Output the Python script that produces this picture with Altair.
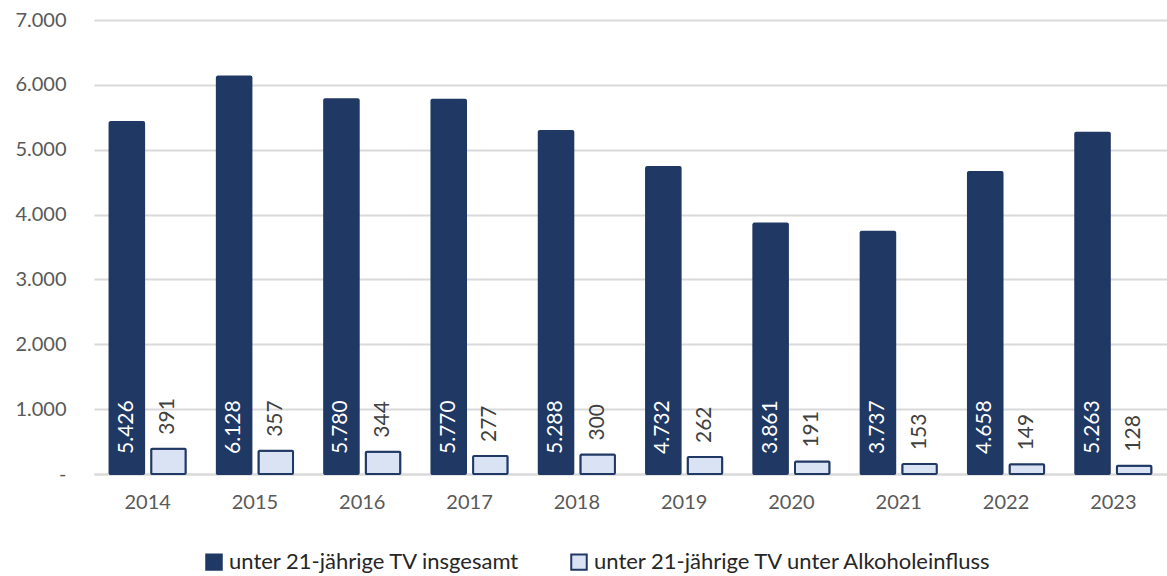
import altair as alt
import pandas as pd

# Road traffic casualties (TV) under 21, total vs. under alcohol influence
years = ["2014", "2015", "2016", "2017", "2018", "2019", "2020", "2021", "2022", "2023"]
total = [5426, 6128, 5780, 5770, 5288, 4732, 3861, 3737, 4658, 5263]
alcohol = [391, 357, 344, 277, 300, 262, 191, 153, 149, 128]

S1 = "unter 21-jährige TV insgesamt"
S2 = "unter 21-jährige TV unter Alkoholeinfluss"
series = [S1, S2]

DARK = "#203864"
LIGHT = "#dae3f3"
GRID = "#d9d9d9"
TEXT = "#595959"
FONT = "Lato"

rows = []
for y, t, a in zip(years, total, alcohol):
    rows.append({"year": y, "series": S1, "value": t})
    rows.append({"year": y, "series": S2, "value": a})
df = pd.DataFrame(rows)

german = "replace(format(datum.value, ','), ',', '.')"

base = alt.Chart(df).transform_calculate(label=german).encode(
    x=alt.X(
        "year:N",
        title=None,
        scale=alt.Scale(paddingInner=0.29, paddingOuter=0.145),
        axis=alt.Axis(
            labelAngle=0,
            labelFont=FONT,
            labelFontSize=20,
            labelColor=TEXT,
            labelPadding=18,
            ticks=False,
            domainColor=GRID,
            domainWidth=2,
        ),
    ),
    xOffset=alt.XOffset("series:N", scale=alt.Scale(domain=series, paddingInner=0.17)),
)

y_scale = alt.Scale(domain=[0, 7000], nice=False)

bars = base.mark_bar(stroke=DARK, strokeWidth=2, cornerRadius=1).encode(
    y=alt.Y(
        "value:Q",
        title=None,
        scale=y_scale,
        axis=alt.Axis(
            values=[0, 1000, 2000, 3000, 4000, 5000, 6000, 7000],
            labelExpr="datum.value == 0 ? '-\u00a0\u00a0\u00a0' : replace(format(datum.value, ','), ',', '.')",
            labelFont=FONT,
            labelFontSize=20,
            labelColor=TEXT,
            labelPadding=28,
            ticks=False,
            domain=False,
            gridColor=GRID,
            gridWidth=2,
        ),
    ),
    fill=alt.Fill(
        "series:N",
        scale=alt.Scale(domain=series, range=[DARK, LIGHT]),
        legend=alt.Legend(
            title=None,
            orient="none",
            direction="horizontal",
            legendX=109,
            legendY=531,
            padding=0,
            symbolType="square",
            symbolSize=240,
            symbolStrokeColor=DARK,
            symbolStrokeWidth=2,
            labelFont=FONT,
            labelFontSize=22,
            labelColor="#262626",
            labelOffset=4,
            columnPadding=46,
            labelLimit=600,
        ),
    ),
)

# Totals: white labels inside the dark bars, reading upwards from the base
total_labels = base.transform_filter(alt.datum.series == S1).mark_text(
    angle=270, align="left", baseline="middle", dx=20,
    color="white", font=FONT, fontSize=21,
).encode(y=alt.datum(0, scale=y_scale), text="label:N")

# Alcohol-related counts: grey labels above the light bars
alcohol_labels = base.transform_filter(alt.datum.series == S2).mark_text(
    angle=270, align="left", baseline="middle", dx=14,
    color="#404040", font=FONT, fontSize=21,
).encode(y=alt.Y("value:Q", scale=y_scale), text="label:N")

chart = (
    alt.layer(bars, total_labels, alcohol_labels)
    .properties(
        width=1073,
        height=454,
        autosize=alt.AutoSizeParams(type="none"),
        padding={"left": 94, "top": 20, "right": 0, "bottom": 102},
        background="white",
    )
    .configure_view(stroke=None)
)

chart.save("out.html", embed_options={"renderer": "svg", "actions": False})
